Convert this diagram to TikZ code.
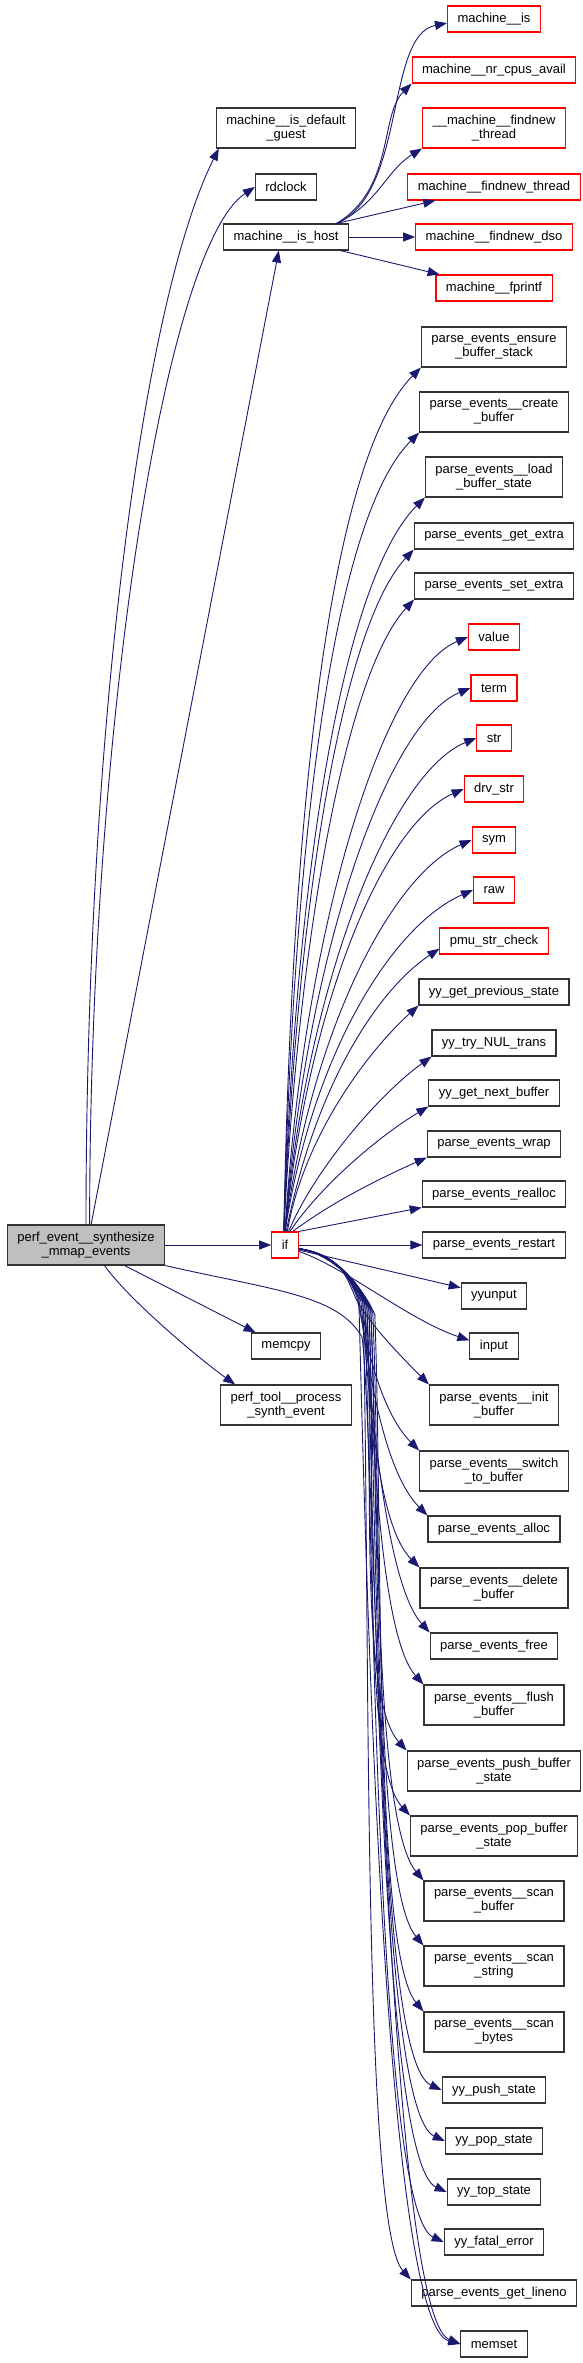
\documentclass[tikz,border=0pt]{standalone}
\usepackage{fontspec}
\setmainfont{Liberation Sans}
\usetikzlibrary{arrows.meta}
\definecolor{edgeblue}{HTML}{191970}

\begin{document}
\begin{tikzpicture}[
  x=1pt, y=-1pt,
  fn/.style={draw=black!80,fill=white,line width=1.1pt,inner xsep=10pt,inner ysep=0pt,minimum height=26pt,align=center,font=\fontsize{13}{14}\selectfont},
  rfn/.style={fn,draw=red},
  tall/.style={minimum height=40pt},
  call/.style={draw=edgeblue,line width=0.9pt,-{Triangle[length=12pt,width=9pt]}}
]
  \useasboundingbox (0,0) rectangle (583,2363);
  \node[fn,tall,fill=black!25] (main) at (86,1245) {perf\_event\_\_synthesize\\\_mmap\_events};
  \node[fn,tall] (guest) at (286,128) {machine\_\_is\_default\\\_guest};
  \node[fn] (rdclock) at (286,187) {rdclock};
  \node[fn] (host) at (286,237) {machine\_\_is\_host};
  \node[rfn] (iff) at (285,1245) {if};
  \node[fn] (memcpy) at (286,1346) {memcpy};
  \node[fn,tall] (tool) at (286,1405) {perf\_tool\_\_process\\\_synth\_event};
  \node[rfn] (mis) at (494,19) {machine\_\_is};
  \node[rfn] (ncpu) at (494,70) {machine\_\_nr\_cpus\_avail};
  \node[rfn,tall] (fnt1) at (494,128) {\_\_machine\_\_findnew\\\_thread};
  \node[rfn] (fnt) at (494,187) {machine\_\_findnew\_thread};
  \node[rfn] (dso) at (494,237) {machine\_\_findnew\_dso};
  \node[rfn] (fpr) at (494,288) {machine\_\_fprintf};
  \node[fn,tall] (ensure) at (494,347) {parse\_events\_ensure\\\_buffer\_stack};
  \node[fn,tall] (create) at (494,412) {parse\_events\_\_create\\\_buffer};
  \node[fn,tall] (load) at (494,477) {parse\_events\_\_load\\\_buffer\_state};
  \node[fn] (gete) at (494,536) {parse\_events\_get\_extra};
  \node[fn] (sete) at (494,586) {parse\_events\_set\_extra};
  \node[rfn] (value) at (494,637) {value};
  \node[rfn] (term) at (494,688) {term};
  \node[rfn] (str) at (494,738) {str};
  \node[rfn] (drvstr) at (494,789) {drv\_str};
  \node[rfn] (sym) at (494,840) {sym};
  \node[rfn] (raw) at (494,890) {raw};
  \node[rfn] (pmu) at (494,941) {pmu\_str\_check};
  \node[fn] (prev) at (494,992) {yy\_get\_previous\_state};
  \node[fn] (nul) at (494,1043) {yy\_try\_NUL\_trans};
  \node[fn] (next) at (494,1093) {yy\_get\_next\_buffer};
  \node[fn] (wrap) at (494,1144) {parse\_events\_wrap};
  \node[fn] (realloc) at (494,1194) {parse\_events\_realloc};
  \node[fn] (restart) at (494,1245) {parse\_events\_restart};
  \node[fn] (unput) at (494,1296) {yyunput};
  \node[fn] (input) at (494,1346) {input};
  \node[fn,tall] (init) at (494,1405) {parse\_events\_\_init\\\_buffer};
  \node[fn,tall] (switch) at (494,1471) {parse\_events\_\_switch\\\_to\_buffer};
  \node[fn] (alloc) at (494,1529) {parse\_events\_alloc};
  \node[fn,tall] (delete) at (494,1588) {parse\_events\_\_delete\\\_buffer};
  \node[fn] (free) at (494,1646) {parse\_events\_free};
  \node[fn,tall] (flush) at (494,1705) {parse\_events\_\_flush\\\_buffer};
  \node[fn,tall] (push) at (494,1771) {parse\_events\_push\_buffer\\\_state};
  \node[fn,tall] (pop) at (494,1836) {parse\_events\_pop\_buffer\\\_state};
  \node[fn,tall] (scanbuf) at (494,1901) {parse\_events\_\_scan\\\_buffer};
  \node[fn,tall] (scanstr) at (494,1966) {parse\_events\_\_scan\\\_string};
  \node[fn,tall] (scanbyt) at (494,2032) {parse\_events\_\_scan\\\_bytes};
  \node[fn] (ypush) at (494,2090) {yy\_push\_state};
  \node[fn] (ypop) at (494,2141) {yy\_pop\_state};
  \node[fn] (ytop) at (494,2192) {yy\_top\_state};
  \node[fn] (yfatal) at (494,2242) {yy\_fatal\_error};
  \node[fn] (lineno) at (494,2293) {parse\_events\_get\_lineno};
  \node[fn] (memset) at (494,2344) {memset};
  \coordinate (bend) at (362,1337);
  % calls of perf_event__synthesize_mmap_events
  \draw[call] (main.north) .. controls +(0,-500) and +(-75,150) .. (guest.197);
  \draw[call] (main.80) .. controls +(0,-500) and +(-90,60) .. (rdclock.west);
  \draw[call] (main.76) -- (host.-118);
  \draw[call] (main) -- (iff);
  \draw[call] (main.-28) -- (memcpy.156);
  \draw[call] (main.-48) .. controls +(25,35) and +(-35,-25) .. (tool.158);
  \draw[call] (main.south east) .. controls +(110,25) and +(-24,-42) .. (bend) .. controls +(12,80) and +(-75,-30) .. (memset.west);
  % calls of machine__is_host
  \draw[call] (host.15) .. controls +(70,-30) and +(-62,12) .. (mis.185);
  \draw[call] (host.15) .. controls +(58,-35) and +(-32,32) .. (ncpu.south west);
  \draw[call] (host.15) .. controls +(42,-20) and +(-36,22) .. (fnt1.south west);
  \draw[call] (host.15) -- (fnt.193);
  \draw[call] (host) -- (dso);
  \draw[call] (host.-14) -- (fpr.166);
  % calls of if, upwards
  \draw[call] (iff.95) .. controls +(8,-430) and +(-90,90) .. (ensure.south west);
  \draw[call] (iff.95) .. controls +(10,-400) and +(-85,85) .. (create.south west);
  \draw[call] (iff.95) .. controls +(12,-370) and +(-80,80) .. (load.south west);
  \draw[call] (iff.95) .. controls +(14,-340) and +(-70,75) .. (gete.south west);
  \draw[call] (iff.95) .. controls +(16,-315) and +(-65,70) .. (sete.south west);
  \draw[call] (iff.90) .. controls +(18,-300) and +(-85,35) .. (value.west);
  \draw[call] (iff.90) .. controls +(20,-270) and +(-85,35) .. (term.west);
  \draw[call] (iff.90) .. controls +(22,-250) and +(-85,35) .. (str.west);
  \draw[call] (iff.90) .. controls +(24,-230) and +(-80,35) .. (drvstr.west);
  \draw[call] (iff.90) .. controls +(26,-200) and +(-80,35) .. (sym.west);
  \draw[call] (iff.90) .. controls +(28,-180) and +(-80,35) .. (raw.west);
  \draw[call] (iff.85) .. controls +(30,-150) and +(-60,40) .. (pmu.188);
  \draw[call] (iff.80) .. controls +(15,-90) and +(-55,50) .. (prev.south west);
  \draw[call] (iff.75) .. controls +(25,-60) and +(-55,40) .. (nul.south west);
  \draw[call] (iff.70) .. controls +(30,-45) and +(-50,30) .. (next.south west);
  \draw[call] (iff.60) .. controls +(40,-30) and +(-45,20) .. (wrap.south west);
  \draw[call] (iff.north east) -- (realloc.south west);
  \draw[call] (iff) -- (restart);
  % calls of if, downwards
  \draw[call] (iff.-20) -- (unput.166);
  \draw[call] (iff.-25) .. controls +(45,15) and +(-60,-20) .. (input.167);
  \draw[call] (iff.-15) .. controls +(35,5) and +(-10,-25) .. +(55,45) .. controls +(8,22) and +(-30,-30) .. (init.north west);
  \draw[call] (iff.-15) .. controls +(35,5) and +(-10,-25) .. +(58,48) .. controls +(8,40) and +(-40,-40) .. (switch.north west);
  \draw[call] (iff.-15) .. controls +(35,5) and +(-10,-25) .. +(60,50) .. controls +(8,60) and +(-45,-45) .. (alloc.north west);
  \draw[call] (iff.-15) .. controls +(35,5) and +(-10,-25) .. +(62,52) .. controls +(8,75) and +(-45,-45) .. (delete.north west);
  \draw[call] (iff.-15) .. controls +(35,5) and +(-10,-25) .. +(64,54) .. controls +(8,95) and +(-45,-50) .. (free.north west);
  \draw[call] (iff.-15) .. controls +(35,5) and +(-10,-25) .. +(66,56) .. controls +(8,110) and +(-45,-50) .. (flush.north west);
  \draw[call] (iff.-15) .. controls +(35,5) and +(-10,-25) .. +(68,58) .. controls +(8,130) and +(-50,-55) .. (push.north west);
  \draw[call] (iff.-15) .. controls +(35,5) and +(-10,-25) .. +(70,60) .. controls +(8,150) and +(-50,-55) .. (pop.north west);
  \draw[call] (iff.-15) .. controls +(35,5) and +(-10,-25) .. +(72,62) .. controls +(8,170) and +(-50,-60) .. (scanbuf.north west);
  \draw[call] (iff.-15) .. controls +(35,5) and +(-10,-25) .. +(74,64) .. controls +(8,190) and +(-50,-60) .. (scanstr.north west);
  \draw[call] (iff.-15) .. controls +(35,5) and +(-10,-25) .. +(76,66) .. controls +(8,210) and +(-50,-60) .. (scanbyt.north west);
  \draw[call] (iff.-15) .. controls +(35,5) and +(-10,-25) .. +(72,60) .. controls +(8,230) and +(-65,-30) .. (ypush.west);
  \draw[call] (iff.-15) .. controls +(35,5) and +(-10,-25) .. +(70,58) .. controls +(8,250) and +(-65,-30) .. (ypop.west);
  \draw[call] (iff.-15) .. controls +(35,5) and +(-10,-25) .. +(68,56) .. controls +(8,260) and +(-65,-30) .. (ytop.west);
  \draw[call] (iff.-15) .. controls +(35,5) and +(-10,-25) .. +(66,54) .. controls +(8,280) and +(-65,-30) .. (yfatal.west);
  \draw[call] (iff.-15) .. controls +(35,5) and +(-10,-25) .. +(64,52) .. controls +(8,290) and +(-50,-55) .. (lineno.north west);
  \draw[call] (iff.-15) .. controls +(35,5) and +(-10,-25) .. +(60,50) .. controls +(8,310) and +(-75,-20) .. (memset.west);
\end{tikzpicture}
\end{document}
